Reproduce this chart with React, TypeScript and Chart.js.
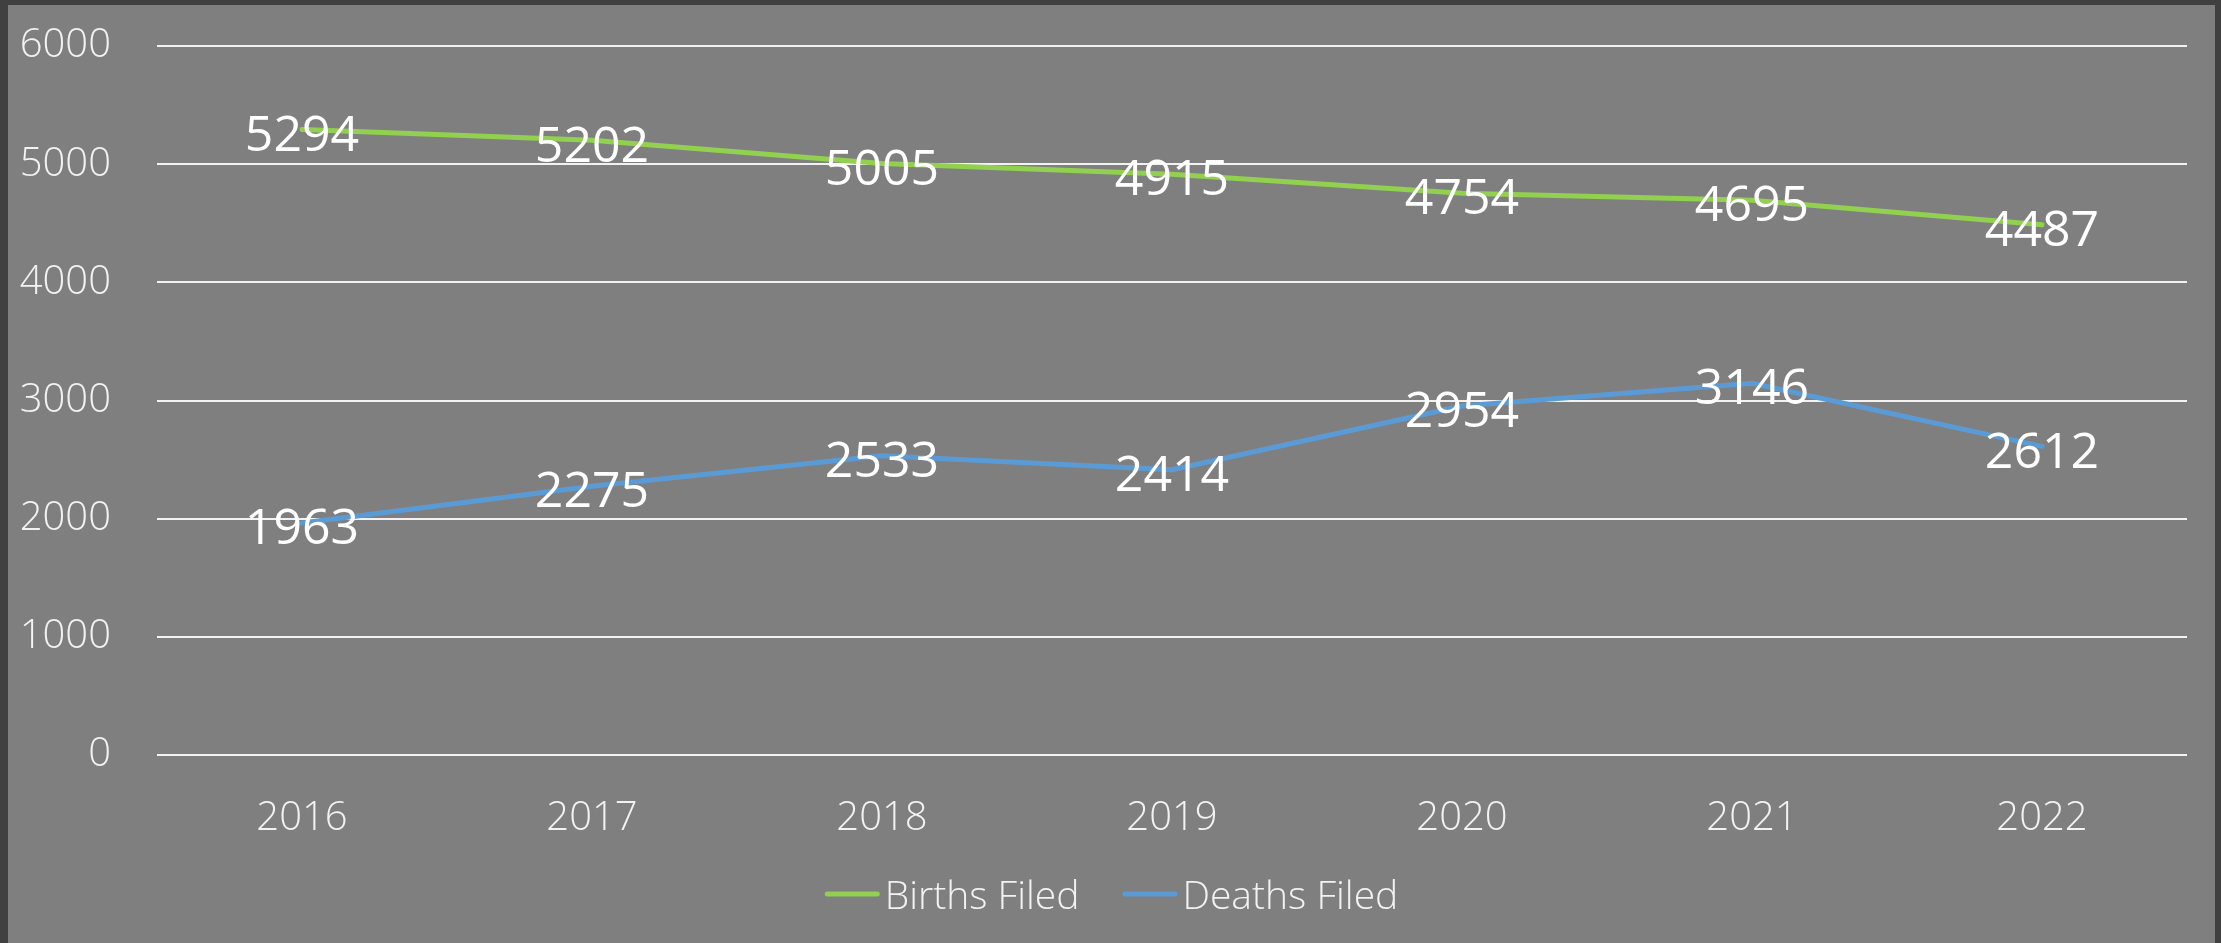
import React, { useEffect, useRef } from 'react';
import { Chart, registerables } from 'chart.js';

Chart.register(...registerables);

const years: string[] = ['2016', '2017', '2018', '2019', '2020', '2021', '2022'];
const birthsFiled: number[] = [5294, 5202, 5005, 4915, 4754, 4695, 4487];
const deathsFiled: number[] = [1963, 2275, 2533, 2414, 2954, 3146, 2612];
const seriesNames: string[] = ['Births Filed', 'Deaths Filed'];
const seriesColors: string[] = ['#92d050', '#5b9bd5'];
const yMin = 0;
const yMax = 6000;
const yStep = 1000;

const FONT = '"Open Sans", "Segoe UI", sans-serif';

const dataLabelPlugin = {
  id: 'dataLabels',
  afterDatasetsDraw(chart: any) {
    const ctx = chart.ctx;
    ctx.save();
    ctx.font = `400 50px ${FONT}`;
    ctx.fillStyle = '#ffffff';
    ctx.textAlign = 'center';
    ctx.textBaseline = 'middle';
    chart.data.datasets.forEach((ds: any, i: number) => {
      const meta = chart.getDatasetMeta(i);
      meta.data.forEach((pt: any, j: number) => {
        ctx.fillText(String(ds.data[j]), pt.x, pt.y + 7);
      });
    });
    ctx.restore();
  },
};

const legendPlugin = {
  id: 'customLegend',
  afterDraw(chart: any) {
    const ctx = chart.ctx;
    ctx.save();
    ctx.font = `300 39px ${FONT}`;
    const lineW = 55;
    const gap = 5;
    const itemGap = 43;
    const items = chart.data.datasets.map((ds: any) => ({
      text: ds.label,
      color: ds.borderColor,
      w: ctx.measureText(ds.label).width,
    }));
    const total = items.reduce((s: number, it: any) => s + lineW + gap + it.w, 0) + itemGap * (items.length - 1);
    const centerX = chart.width / 2;
    const lineY = 889;
    const baseY = 904;
    let x = centerX - total / 2;
    items.forEach((it: any) => {
      ctx.strokeStyle = it.color;
      ctx.lineWidth = 5;
      ctx.lineCap = 'round';
      ctx.beginPath();
      ctx.moveTo(x + 2.5, lineY);
      ctx.lineTo(x + lineW - 2.5, lineY);
      ctx.stroke();
      ctx.fillStyle = '#f2f2f2';
      ctx.textAlign = 'left';
      ctx.textBaseline = 'alphabetic';
      ctx.fillText(it.text, x + lineW + gap, baseY);
      x += lineW + gap + it.w + itemGap;
    });
    ctx.restore();
  },
};

export default function App() {
  const ref = useRef<HTMLCanvasElement | null>(null);

  useEffect(() => {
    document.body.style.margin = '0';
    document.body.style.background = '#404040';
    const canvas = ref.current;
    if (!canvas) return;
    const chart = new Chart(canvas, {
      type: 'line',
      data: {
        labels: years,
        datasets: [
          {
            label: seriesNames[0],
            data: birthsFiled,
            borderColor: seriesColors[0],
            backgroundColor: seriesColors[0],
            borderWidth: 5,
            borderCapStyle: 'round',
            borderJoinStyle: 'round',
            pointRadius: 0,
            pointHoverRadius: 0,
            tension: 0,
          },
          {
            label: seriesNames[1],
            data: deathsFiled,
            borderColor: seriesColors[1],
            backgroundColor: seriesColors[1],
            borderWidth: 5,
            borderCapStyle: 'round',
            borderJoinStyle: 'round',
            pointRadius: 0,
            pointHoverRadius: 0,
            tension: 0,
          },
        ],
      },
      options: {
        responsive: false,
        animation: false,
        devicePixelRatio: 1,
        layout: { padding: { left: 0, right: 28, top: 41, bottom: 0 } },
        plugins: {
          legend: { display: false },
          tooltip: { enabled: false },
        },
        scales: {
          x: {
            offset: true,
            grid: { display: false, drawTicks: false },
            border: { display: false },
            ticks: {
              color: '#f2f2f2',
              font: { family: FONT, size: 40, weight: '300' },
              padding: 40,
              maxRotation: 0,
            },
            afterFit(scale: any) {
              scale.height = 188;
            },
          },
          y: {
            min: yMin,
            max: yMax,
            grid: { color: '#f2f2f2', lineWidth: 2, drawTicks: false },
            border: { display: false },
            ticks: {
              stepSize: yStep,
              color: '#f2f2f2',
              font: { family: FONT, size: 40, weight: '300' },
              padding: 46,
              callback: (v: any) => String(v),
            },
            afterFit(scale: any) {
              scale.width = 149;
              scale.paddingTop = 0;
              scale.paddingBottom = 0;
            },
          },
        },
      },
      plugins: [dataLabelPlugin, legendPlugin],
    });
    return () => chart.destroy();
  }, []);

  return (
    <div
      style={{
        marginLeft: 8,
        marginTop: 5,
        width: 2207,
        height: 938,
        background: '#7f7f7f',
      }}
    >
      <canvas ref={ref} width={2207} height={938} style={{ display: 'block', width: 2207, height: 938 }} />
    </div>
  );
}
